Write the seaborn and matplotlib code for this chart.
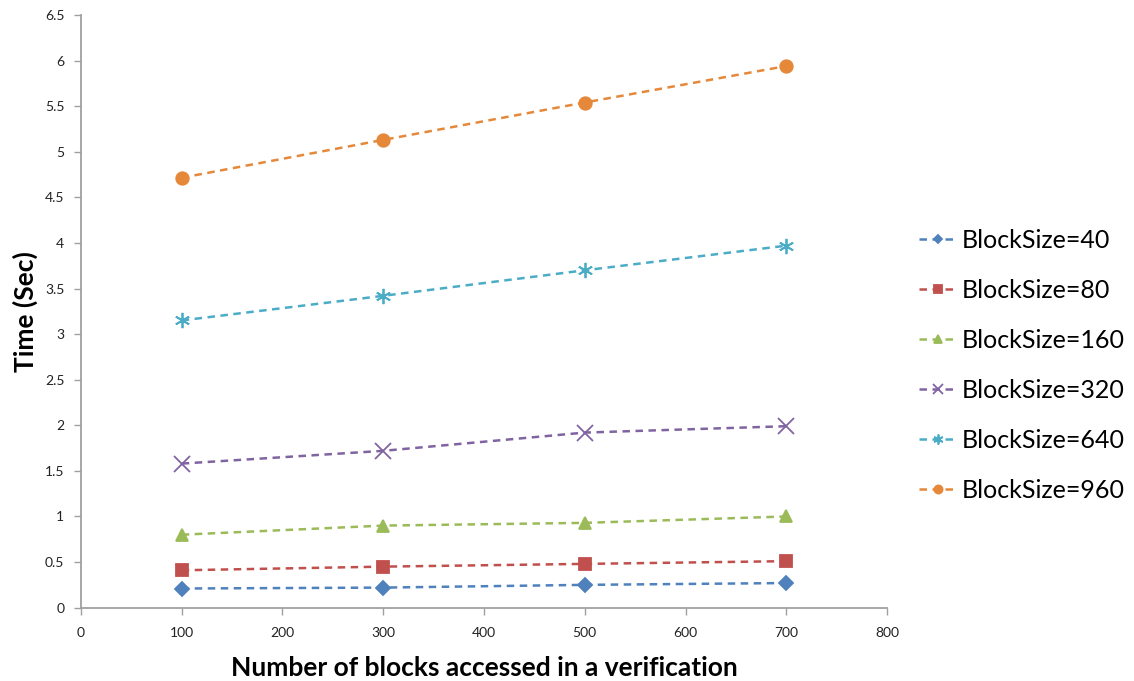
import matplotlib
matplotlib.use("Agg")
import matplotlib.pyplot as plt
import seaborn as sns
import pandas as pd

blocks = [100, 300, 500, 700]
series_names = ["BlockSize=40", "BlockSize=80", "BlockSize=160",
                "BlockSize=320", "BlockSize=640", "BlockSize=960"]
bs40 = [0.21, 0.22, 0.25, 0.27]
bs80 = [0.41, 0.45, 0.48, 0.51]
bs160 = [0.80, 0.90, 0.93, 1.00]
bs320 = [1.58, 1.72, 1.92, 1.99]
bs640 = [3.15, 3.42, 3.70, 3.97]
bs960 = [4.715, 5.13, 5.54, 5.94]
x_ticks = [0, 100, 200, 300, 400, 500, 600, 700, 800]
y_ticks = [0, 0.5, 1, 1.5, 2, 2.5, 3, 3.5, 4, 4.5, 5, 5.5, 6, 6.5]

values = [bs40, bs80, bs160, bs320, bs640, bs960]
colors = ["#4F81BD", "#C0504D", "#9BBB59", "#8064A2", "#4BACC6", "#E5883A"]
markers = ["D", "s", "^", "x", (6, 2, 0), "o"]
msizes = [7, 9, 9, 11, 11, 9]

df = pd.DataFrame({
    "blocks": blocks * len(series_names),
    "time": [v for s in values for v in s],
    "series": [n for n in series_names for _ in blocks],
})

sns.set_theme(style="white")
plt.rcParams["font.family"] = ["Lato", "DejaVu Sans"]

fig = plt.figure(figsize=(11.34, 6.81), dpi=100)
ax = fig.add_axes([0.0714, 0.1077, 0.7108, 0.8703])

for name, col, mk, ms in zip(series_names, colors, markers, msizes):
    sub = df[df["series"] == name]
    sns.lineplot(data=sub, x="blocks", y="time", ax=ax, color=col,
                 linestyle=(0, (3, 2.2)), linewidth=1.8, marker=mk,
                 markersize=ms, markeredgecolor=col, markeredgewidth=1.3,
                 label=name)

ax.set_xlim(0, 800)
ax.set_ylim(0, 6.5)
ax.set_xticks(x_ticks)
ax.set_yticks(y_ticks)
ax.set_yticklabels([f"{t:g}" for t in y_ticks])
ax.tick_params(axis="both", labelsize=10, length=5, width=1,
               direction="out", left=True, bottom=True)
ax.tick_params(axis="x", pad=9)
ax.tick_params(axis="y", pad=7)
for s in ["top", "right"]:
    ax.spines[s].set_visible(False)
for s in ["left", "bottom"]:
    ax.spines[s].set_color("#a0a0a0")
    ax.spines[s].set_linewidth(1.3)
ax.tick_params(colors="#a0a0a0", labelcolor="#222222")

ax.set_xlabel("Number of blocks accessed in a verification",
              fontsize=19, fontweight="bold", labelpad=12, color="black")
ax.set_ylabel("Time (Sec)", fontsize=19, fontweight="bold", labelpad=5,
              color="black")

handles, labels = ax.get_legend_handles_labels()
ax.legend(handles, labels, loc="center left", bbox_to_anchor=(0.791, 0.463),
          bbox_transform=fig.transFigure, frameon=False, fontsize=18,
          handlelength=1.5, handletextpad=0.2, labelspacing=1.08,
          markerscale=0.65, labelcolor="black")

fig.savefig("out.png", dpi=100)
